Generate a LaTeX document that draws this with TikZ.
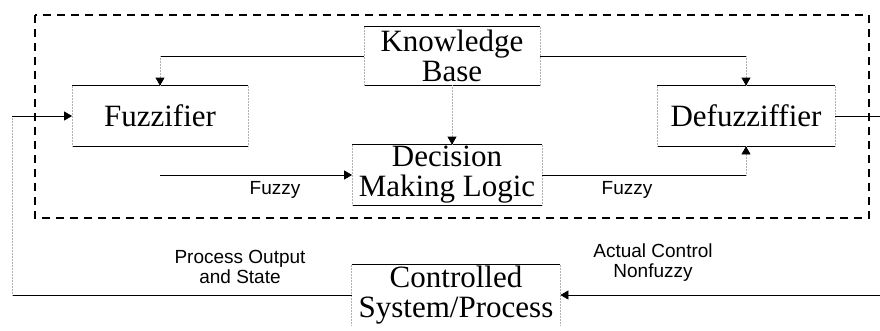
\documentclass[tikz,border=0pt]{standalone}
\usepackage{fontspec}
\setmainfont{Liberation Serif}
\setsansfont{Liberation Sans}
\usetikzlibrary{arrows.meta}
\begin{document}
\begin{tikzpicture}[x=1pt,y=-1pt,line width=0.8pt,
    blk/.style={inner sep=0pt,align=center,font=\fontsize{31}{30}\selectfont},
    lbl/.style={align=center,font=\sffamily\fontsize{19}{20}\selectfont},
    side/.style={gray!60,line width=0.5pt,densely dotted},
    arr/.style={-{Triangle[length=8pt,width=9pt]}}]
        \useasboundingbox (0,0) rectangle (880,330);

        \draw[dashed,line width=1.4pt,dash pattern=on 8pt off 6pt] (35,15) rectangle (869,218);

        \node[blk,minimum width=175pt,minimum height=58pt] (kb) at (452,56) {Knowledge\\Base};
        \node[blk,minimum width=175pt,minimum height=60pt] (fuzz) at (160,116) {Fuzzifier};
        \node[blk,minimum width=177pt,minimum height=60pt] (defuzz) at (746,116) {Defuzziffier};
        \node[blk,minimum width=189pt,minimum height=60pt] (dml) at (447,175) {Decision\\Making Logic};
        \node[blk,minimum width=208pt,minimum height=60pt] (plant) at (456,295) {Controlled\\System/Process};

        \foreach \b in {kb,fuzz,defuzz,dml} {
            \draw (\b.north west) -- (\b.north east);
            \draw (\b.south west) -- (\b.south east);
            \draw[side] (\b.north west) -- (\b.south west);
            \draw[side] (\b.north east) -- (\b.south east);
        }
        \draw (plant.north west) -- (plant.north east);
        \draw[side] (plant.north west) -- (plant.south west);
        \draw[side] (plant.north east) -- (plant.south east);

        \coordinate (outR) at (880,116);
        \coordinate (inR) at (880,295);
        \coordinate (fbL) at (12,295);
        \coordinate (fbT) at (12,116);
        \coordinate (kbd) at (kb.south |- dml.north);

        % knowledge base to both ends
        \draw (kb.west) -- (kb.west -| fuzz.north);
        \draw[side] (kb.west -| fuzz.north) -- (fuzz.north);
        \draw[arr] ([yshift=1pt]fuzz.north) -- (fuzz.north);
        \draw (kb.east) -- (kb.east -| defuzz.north);
        \draw[side] (kb.east -| defuzz.north) -- (defuzz.north);
        \draw[arr] ([yshift=1pt]defuzz.north) -- (defuzz.north);
        \draw[side] (kb.south) -- (kbd);
        \draw[arr] ([yshift=1pt]kbd) -- (kbd);
        % fuzzy path
        \draw[arr] (fuzz.south |- dml.west) -- (dml.west);
        \draw (dml.east) -- (dml.east -| defuzz.south);
        \draw[side] (dml.east -| defuzz.south) -- (defuzz.south);
        \draw[arr] ([yshift=-1pt]defuzz.south) -- (defuzz.south);
        % plant loop
        \draw (defuzz.east) -- (outR);
        \draw[arr] (inR) -- (plant.east);
        \draw (plant.west) -- (fbL);
        \draw[side] (fbL) -- (fbT);
        \draw[arr] (fbT) -- (fuzz.west);

        \node[lbl] (fz1) at (275,190) {Fuzzy};
        \node[lbl] (fz2) at (627,190) {Fuzzy};
        \node[lbl] (pos) at (240,267) {Process Output\\and State};
        \node[lbl] (acn) at (653,263) {Actual Control\\Nonfuzzy};
    \end{tikzpicture}
\end{document}
